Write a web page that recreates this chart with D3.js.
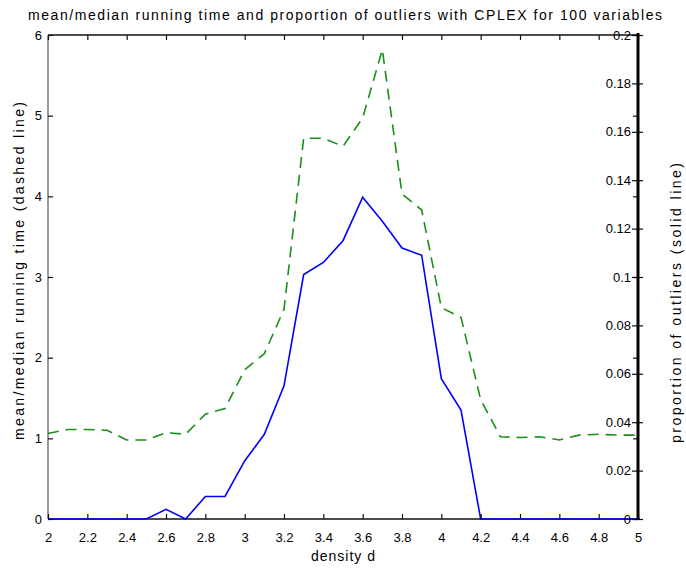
<!DOCTYPE html>
<html>
<head>
<meta charset="utf-8">
<script src="https://cdn.jsdelivr.net/npm/d3@7"></script>
<style>
  html, body { margin: 0; padding: 0; background: #fff; }
  svg { display: block; }
  text { font-family: "Liberation Sans", Arial, sans-serif; fill: #000; }
</style>
</head>
<body>
<svg id="chart" width="686" height="569"></svg>
<script>
// ---- data ----
const density = [2.0, 2.1, 2.2, 2.3, 2.4, 2.5, 2.6, 2.7, 2.8, 2.9,
                 3.0, 3.1, 3.2, 3.3, 3.4, 3.5, 3.6, 3.7, 3.8, 3.9,
                 4.0, 4.1, 4.2, 4.3, 4.4, 4.5, 4.6, 4.7, 4.8, 4.9, 5.0];
const meanMedianTime = [1.06, 1.11, 1.11, 1.10, 0.98, 0.98, 1.07, 1.05, 1.30, 1.37,
                        1.85, 2.05, 2.60, 4.72, 4.72, 4.62, 4.97, 5.82, 4.03, 3.83,
                        2.62, 2.50, 1.48, 1.02, 1.01, 1.02, 0.98, 1.04, 1.05, 1.04, 1.04];
const outlierProportion = [0, 0, 0, 0, 0, 0, 0.004, 0, 0.0093, 0.0093,
                           0.024, 0.035, 0.055, 0.101, 0.106, 0.115, 0.133, 0.123, 0.112, 0.109,
                           0.058, 0.045, 0, 0, 0, 0, 0, 0, 0, 0, 0];
const xTicks = [2, 2.2, 2.4, 2.6, 2.8, 3, 3.2, 3.4, 3.6, 3.8, 4, 4.2, 4.4, 4.6, 4.8, 5];
const leftTicks = [0, 1, 2, 3, 4, 5, 6];
const rightTicks = [0, 0.02, 0.04, 0.06, 0.08, 0.1, 0.12, 0.14, 0.16, 0.18, 0.2];
const titleText = "mean/median running time and proportion of outliers with CPLEX for 100 variables";
const xLabel = "density d";
const leftLabel = "mean/median running time (dashed line)";
const rightLabel = "proportion of outliers (solid line)";

// ---- layout ----
const L = 48, R = 638, T = 35, B = 519;
const svg = d3.select("#chart");
const x = d3.scaleLinear().domain([2, 5]).range([L, R]);
const yL = d3.scaleLinear().domain([0, 6]).range([B, T]);
const yR = d3.scaleLinear().domain([0, 0.2]).range([B, T]);
const fmt = d => String(+(+d).toFixed(2));

// data lines
const lineL = d3.line().x((d, i) => x(density[i])).y(d => yL(d));
const lineR = d3.line().x((d, i) => x(density[i])).y(d => yR(d));

svg.append("path").datum(meanMedianTime)
  .attr("d", lineL).attr("fill", "none")
  .attr("stroke", "#1a8f1a").attr("stroke-width", 1.6)
  .attr("stroke-dasharray", "11,7");

// box lines
svg.append("line").attr("x1", L).attr("x2", R).attr("y1", T).attr("y2", T)
  .attr("stroke", "#111").attr("stroke-width", 1.3);
svg.append("line").attr("x1", L).attr("x2", R + 2).attr("y1", B).attr("y2", B)
  .attr("stroke", "#111").attr("stroke-width", 1.3);
svg.append("line").attr("x1", L).attr("x2", L).attr("y1", T).attr("y2", B)
  .attr("stroke", "#333").attr("stroke-width", 1);

svg.append("path").datum(outlierProportion)
  .attr("d", lineR).attr("fill", "none")
  .attr("stroke", "#0000ff").attr("stroke-width", 1.6);

// bottom axis (inward ticks)
const gB = svg.append("g").attr("transform", `translate(0,${B})`)
  .call(d3.axisBottom(x).tickValues(xTicks).tickFormat(fmt).tickSizeInner(-5).tickSizeOuter(0).tickPadding(14));
// top axis ticks
const gT = svg.append("g").attr("transform", `translate(0,${T})`)
  .call(d3.axisTop(x).tickValues(xTicks).tickFormat("").tickSizeInner(-5).tickSizeOuter(0));
// left axis
const gL = svg.append("g").attr("transform", `translate(${L},0)`)
  .call(d3.axisLeft(yL).tickValues(leftTicks).tickFormat(fmt).tickSizeInner(-5).tickSizeOuter(0).tickPadding(6));
// mirrored left ticks on right side
const gLR = svg.append("g").attr("transform", `translate(${R},0)`)
  .call(d3.axisRight(yL).tickValues(leftTicks).tickFormat("").tickSizeInner(-5).tickSizeOuter(0));
// right axis: labels inside, ticks crossing
const gR = svg.append("g").attr("transform", `translate(${R},0)`)
  .call(d3.axisLeft(yR).tickValues(rightTicks).tickFormat(fmt).tickSizeInner(6).tickSizeOuter(0).tickPadding(1));
const gR2 = svg.append("g").attr("transform", `translate(${R},0)`)
  .call(d3.axisRight(yR).tickValues(rightTicks).tickFormat("").tickSizeInner(5).tickSizeOuter(0));

[gB, gT, gL, gLR, gR, gR2].forEach(g => {
  g.select(".domain").remove();
  g.selectAll(".tick line").attr("stroke", "#111").attr("stroke-width", 1.2);
  g.selectAll("text").attr("font-size", 13).attr("font-family", "Liberation Sans, Arial, sans-serif").attr("fill", "#000");
});

// thick right axis
svg.append("line").attr("x1", R).attr("x2", R).attr("y1", T - 2).attr("y2", B + 1)
  .attr("stroke", "#000").attr("stroke-width", 3);

// texts
svg.append("text").attr("x", 345).attr("y", 20).attr("text-anchor", "middle")
  .attr("font-size", 14).attr("textLength", 634).attr("lengthAdjust", "spacing").text(titleText);
svg.append("text").attr("x", 343).attr("y", 561).attr("text-anchor", "middle")
  .attr("font-size", 14).attr("textLength", 64).attr("lengthAdjust", "spacing").text(xLabel);
svg.append("text").attr("transform", `translate(24,271) rotate(-90)`)
  .attr("text-anchor", "middle").attr("font-size", 14)
  .attr("textLength", 338).attr("lengthAdjust", "spacing").text(leftLabel);
svg.append("text").attr("transform", `translate(681,303) rotate(-90)`)
  .attr("text-anchor", "middle").attr("font-size", 14)
  .attr("textLength", 280).attr("lengthAdjust", "spacing").text(rightLabel);
</script>
</body>
</html>
